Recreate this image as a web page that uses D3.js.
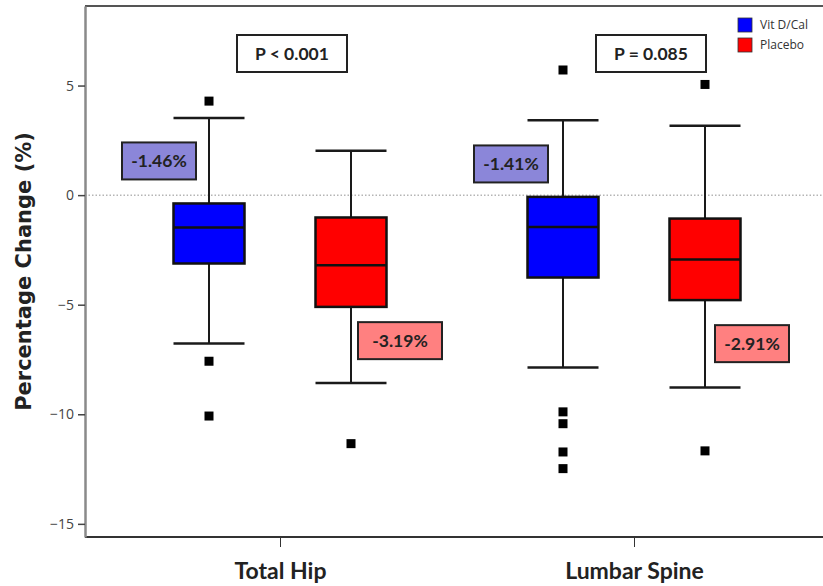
<!DOCTYPE html>
<html>
<head>
<meta charset="utf-8">
<script src="https://cdn.jsdelivr.net/npm/d3@7"></script>
<style>
  body { margin: 0; background: #fff; }
  svg { display: block; }
</style>
</head>
<body>
<div id="chart"></div>
<script>
// data (values in %)
var categories = ["Total Hip", "Lumbar Spine"];
var series = ["Vit D/Cal", "Placebo"];
var seriesColors = ["#0000ff", "#ff0000"];
var labelColors = ["#8b86d9", "#ff8080"];
// [category][series]
var whiskerHigh = [[3.52, 2.02], [3.42, 3.16]];
var q3 = [[-0.38, -1.02], [-0.08, -1.07]];
var medians = [[-1.48, -3.2], [-1.45, -2.94]];
var q1 = [[-3.12, -5.1], [-3.76, -4.79]];
var whiskerLow = [[-6.77, -8.57], [-7.87, -8.78]];
var outliers = [
  [[4.29, -7.58, -10.08], [-11.34]],
  [[5.71, -9.89, -10.43, -11.72, -12.48], [5.05, -11.67]]
];
var meanLabels = [["-1.46%", "-3.19%"], ["-1.41%", "-2.91%"]];
var pLabels = ["P < 0.001", "P = 0.085"];
var yTicks = [5, 0, -5, -10, -15];

var w = 823, h = 586;
var plotLeft = 85, plotTop = 6, plotBottom = 537;

var svg = d3.select("#chart").append("svg")
  .attr("width", w)
  .attr("height", h);

var y = d3.scaleLinear()
  .domain([-15.6, 8.63])
  .range([plotBottom, plotTop]);

var x = d3.scalePoint()
  .domain(categories)
  .range([280, 634]);

var xs = d3.scaleBand()
  .domain(series)
  .range([-106.5, 106.5])
  .paddingInner(0.5)
  .paddingOuter(0);

var bw = xs.bandwidth();
function cx(ci, si) { return x(categories[ci]) + xs(series[si]) + bw / 2; }

// zero reference line
svg.append("line")
  .attr("x1", plotLeft).attr("x2", w)
  .attr("y1", y(0)).attr("y2", y(0))
  .attr("stroke", "#b5b5b5")
  .attr("stroke-width", 1.5)
  .attr("stroke-dasharray", "1.5,2");

// frame lines
svg.append("line")
  .attr("x1", plotLeft).attr("x2", w)
  .attr("y1", plotTop).attr("y2", plotTop)
  .attr("stroke", "#555").attr("stroke-width", 2);
svg.append("line")
  .attr("x1", plotLeft).attr("x2", w)
  .attr("y1", plotBottom).attr("y2", plotBottom)
  .attr("stroke", "#333").attr("stroke-width", 2);

// y axis
var yAxis = svg.append("g")
  .attr("transform", "translate(" + plotLeft + ",0)")
  .call(d3.axisLeft(y).tickValues(yTicks).tickSize(7).tickSizeOuter(0).tickPadding(4));
yAxis.select(".domain").attr("stroke", "#8a8a8a").attr("stroke-width", 2.5);
yAxis.selectAll(".tick line").attr("stroke", "#444").attr("stroke-width", 1.5);
yAxis.selectAll(".tick text")
  .attr("font-family", "Open Sans, sans-serif")
  .attr("font-size", "14px")
  .attr("fill", "#444");

// x axis ticks and labels
var xAxis = svg.append("g")
  .attr("transform", "translate(0," + plotBottom + ")")
  .call(d3.axisBottom(x).tickSize(10).tickSizeOuter(0).tickPadding(16));
xAxis.select(".domain").remove();
xAxis.selectAll(".tick line").attr("stroke", "#333");
xAxis.selectAll(".tick text")
  .attr("font-family", "Lato, sans-serif")
  .attr("font-weight", "bold")
  .attr("font-size", "23px")
  .attr("fill", "#222");

// y label
svg.append("text")
  .text("Percentage Change (%)")
  .attr("transform", "rotate(-90)")
  .attr("x", -(plotTop + plotBottom) / 2)
  .attr("y", 31)
  .attr("text-anchor", "middle")
  .attr("font-family", "DejaVu Sans, sans-serif")
  .attr("font-weight", "bold")
  .attr("font-size", "21px")
  .attr("fill", "#222");

// boxes
var boxes = [];
categories.forEach(function(c, ci) {
  series.forEach(function(s, si) {
    boxes.push({ ci: ci, si: si });
  });
});

var g = svg.selectAll(".box")
  .data(boxes)
  .enter()
  .append("g")
  .attr("class", "box");

// whisker stems
g.append("line")
  .attr("x1", function(d) { return cx(d.ci, d.si); })
  .attr("x2", function(d) { return cx(d.ci, d.si); })
  .attr("y1", function(d) { return y(whiskerHigh[d.ci][d.si]); })
  .attr("y2", function(d) { return y(whiskerLow[d.ci][d.si]); })
  .attr("stroke", "#1a1a1a").attr("stroke-width", 2);

// caps
[whiskerHigh, whiskerLow].forEach(function(arr) {
  g.append("line")
    .attr("x1", function(d) { return cx(d.ci, d.si) - bw / 2; })
    .attr("x2", function(d) { return cx(d.ci, d.si) + bw / 2; })
    .attr("y1", function(d) { return y(arr[d.ci][d.si]); })
    .attr("y2", function(d) { return y(arr[d.ci][d.si]); })
    .attr("stroke", "#1a1a1a").attr("stroke-width", 2.5);
});

g.append("rect")
  .attr("x", function(d) { return cx(d.ci, d.si) - bw / 2; })
  .attr("y", function(d) { return y(q3[d.ci][d.si]); })
  .attr("width", bw)
  .attr("height", function(d) { return y(q1[d.ci][d.si]) - y(q3[d.ci][d.si]); })
  .attr("fill", function(d) { return seriesColors[d.si]; })
  .attr("stroke", "#111").attr("stroke-width", 2.5);

g.append("line")
  .attr("x1", function(d) { return cx(d.ci, d.si) - bw / 2; })
  .attr("x2", function(d) { return cx(d.ci, d.si) + bw / 2; })
  .attr("y1", function(d) { return y(medians[d.ci][d.si]); })
  .attr("y2", function(d) { return y(medians[d.ci][d.si]); })
  .attr("stroke", "#111").attr("stroke-width", 2.5);

// outliers
g.selectAll(".out")
  .data(function(d) {
    return outliers[d.ci][d.si].map(function(v) { return { ci: d.ci, si: d.si, v: v }; });
  })
  .enter()
  .append("rect")
  .attr("class", "out")
  .attr("x", function(d) { return cx(d.ci, d.si) - 4.5; })
  .attr("y", function(d) { return y(d.v) - 4.5; })
  .attr("width", 9)
  .attr("height", 9)
  .attr("fill", "#000");

// label boxes helper
function labelBox(parent, text, cxv, cyv, fill, wBox) {
  var lg = parent.append("g");
  lg.append("rect")
    .attr("x", cxv - wBox / 2)
    .attr("y", cyv - 18.5)
    .attr("width", wBox)
    .attr("height", 37)
    .attr("fill", fill)
    .attr("stroke", "#222")
    .attr("stroke-width", 2);
  lg.append("text")
    .text(text)
    .attr("x", cxv)
    .attr("y", cyv)
    .attr("dy", "0.36em")
    .attr("text-anchor", "middle")
    .attr("font-family", "Lato, sans-serif")
    .attr("font-weight", "bold")
    .attr("font-size", "17.5px")
    .attr("fill", "#222");
}

// mean labels: vit D to upper left, placebo to lower right
var meanLabelY = [1.56, -6.64];
var meanLabelDx = [-50, 49];
categories.forEach(function(c, ci) {
  series.forEach(function(s, si) {
    var yy = y(meanLabelY[si]) + (ci === 1 ? 3 : 0);
    labelBox(svg, meanLabels[ci][si], cx(ci, si) + meanLabelDx[si] - (ci === 1 ? 2 : 0), yy,
      labelColors[si], meanLabels[ci][si] === "-3.19%" ? 84 : 74);
  });
  labelBox(svg, pLabels[ci], x(c) + (ci === 0 ? 12 : 17), 53.5, "#fff", 110);
});

// legend
var legend = svg.append("g")
  .attr("transform", "translate(738,18)");
series.forEach(function(s, i) {
  legend.append("rect")
    .attr("x", 0)
    .attr("y", i * 20)
    .attr("width", 14)
    .attr("height", 14)
    .attr("fill", seriesColors[i])
    .attr("stroke", "#333")
    .attr("stroke-width", 0.8);
  legend.append("text")
    .text(s)
    .attr("x", 22)
    .attr("y", i * 20 + 7)
    .attr("dy", "0.35em")
    .attr("font-family", "Open Sans, sans-serif")
    .attr("font-size", "12px")
    .attr("fill", "#333");
});
</script>
</body>
</html>
